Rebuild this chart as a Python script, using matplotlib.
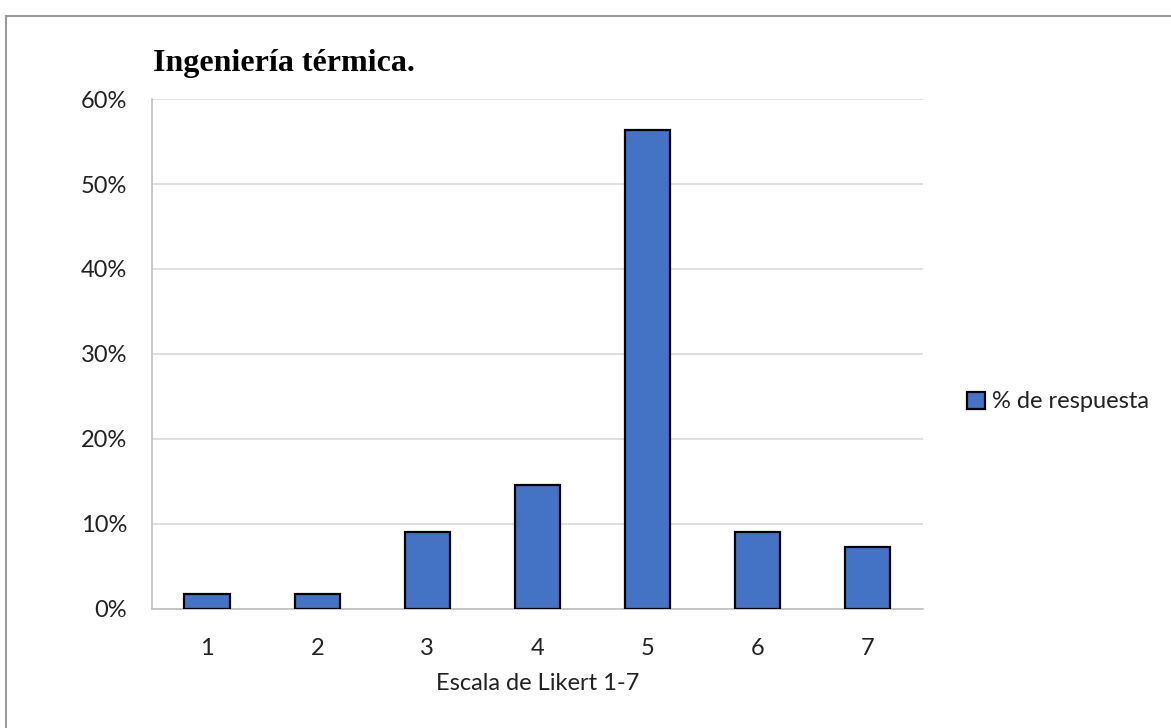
import matplotlib
matplotlib.use("Agg")
import matplotlib.pyplot as plt
from matplotlib.patches import Rectangle
from matplotlib.ticker import PercentFormatter

# data (n = 55 answers)
categories = ["1", "2", "3", "4", "5", "6", "7"]
values = [1.82, 1.82, 9.09, 14.55, 56.36, 9.09, 7.27]
yticks = [0, 10, 20, 30, 40, 50, 60]
title = "Ingeniería térmica."
xlabel = "Escala de Likert 1-7"
series_name = "% de respuesta"

text_color = "#222222"
plt.rcParams['font.family'] = ['Lato', 'DejaVu Sans']

fig = plt.figure(figsize=(11.71, 7.28), dpi=100)
ax = fig.add_axes([0.1298, 0.1635, 0.6584, 0.7005])

# outer chart border (only top/left visible in the reference)
fig.patches.append(Rectangle((6 / 1171, -0.1), 1.2, (720 - 8) / 728 + 0.1,
                             transform=fig.transFigure, fill=False,
                             edgecolor="#9a9a9a", linewidth=1.5))

ax.bar(categories, values, width=0.41, color="#4472C4", edgecolor="black",
       linewidth=1.6, label=series_name, zorder=3)

ax.set_ylim(0, 60)
ax.set_xlim(-0.5, len(categories) - 0.5)
ax.set_yticks(yticks)
ax.yaxis.set_major_formatter(PercentFormatter(decimals=0))
ax.grid(axis='y', color="#d9d9d9", linewidth=1.2, zorder=0)
ax.tick_params(length=0, labelsize=17, labelcolor=text_color)
ax.tick_params(axis='y', pad=18)
ax.tick_params(axis='x', pad=21)

for side in ["top", "right"]:
    ax.spines[side].set_visible(False)
for side in ["left", "bottom"]:
    ax.spines[side].set_color("#bfbfbf")
    ax.spines[side].set_linewidth(1.2)

ax.set_xlabel(xlabel, fontsize=17, color=text_color, labelpad=10)

fig.text(153 / 1171, 1 - 64 / 728, title, fontsize=23, fontweight="bold",
         family="Liberation Serif", va="center", ha="left", color="black")

leg = ax.legend(loc="center left", bbox_to_anchor=(1.03, 0.406), frameon=False,
                fontsize=17, handlelength=0.75, handleheight=0.75, handletextpad=0.3,
                labelcolor=text_color)

fig.savefig("out.png", dpi=100, facecolor="white")
